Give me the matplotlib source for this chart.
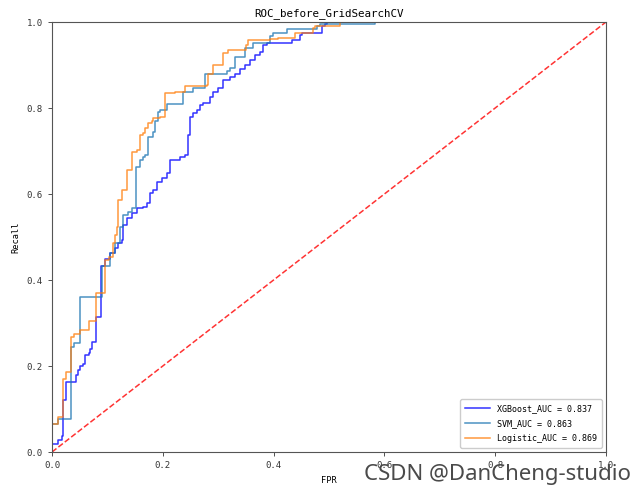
import matplotlib
matplotlib.use("Agg")
import matplotlib.pyplot as plt

# ROC risers: (fpr where the curve rises, tpr reached) -> drawn as steps-post
xgb_fpr = [0.0, 0.0, 0.010, 0.018, 0.019, 0.025, 0.043, 0.047, 0.051, 0.056, 0.060, 0.066, 0.069,
           0.073, 0.079, 0.089, 0.096, 0.105, 0.114, 0.120, 0.126, 0.128, 0.135, 0.144, 0.153,
           0.165, 0.171, 0.177, 0.183, 0.189, 0.198, 0.207, 0.213, 0.231, 0.240, 0.246, 0.249,
           0.255, 0.261, 0.267, 0.273, 0.285, 0.291, 0.300, 0.309, 0.321, 0.330, 0.340, 0.348,
           0.357, 0.366, 0.375, 0.381, 0.388, 0.433, 0.448, 0.451, 0.488, 0.492, 0.496, 1.0]
xgb_tpr = [0.0, 0.019, 0.028, 0.037, 0.120, 0.163, 0.179, 0.190, 0.200, 0.205, 0.225, 0.230, 0.240,
           0.256, 0.313, 0.433, 0.449, 0.462, 0.474, 0.486, 0.493, 0.528, 0.544, 0.556, 0.567,
           0.570, 0.579, 0.602, 0.609, 0.628, 0.637, 0.649, 0.679, 0.686, 0.690, 0.737, 0.779,
           0.788, 0.795, 0.807, 0.812, 0.826, 0.837, 0.847, 0.865, 0.872, 0.880, 0.890, 0.900,
           0.912, 0.923, 0.930, 0.947, 0.951, 0.959, 0.970, 0.974, 0.990, 0.995, 1.0, 1.0]

svm_fpr = [0.0, 0.0, 0.010, 0.034, 0.040, 0.051, 0.090, 0.105, 0.114, 0.123, 0.128, 0.138, 0.144,
           0.152, 0.159, 0.165, 0.168, 0.174, 0.183, 0.186, 0.192, 0.195, 0.207, 0.237, 0.255,
           0.276, 0.315, 0.321, 0.330, 0.348, 0.363, 0.394, 0.399, 0.424, 0.478, 0.484, 0.583, 1.0]
svm_tpr = [0.0, 0.065, 0.076, 0.244, 0.253, 0.361, 0.433, 0.462, 0.486, 0.524, 0.551, 0.559, 0.567,
           0.663, 0.679, 0.685, 0.690, 0.733, 0.745, 0.770, 0.791, 0.795, 0.809, 0.838, 0.846,
           0.880, 0.885, 0.893, 0.919, 0.940, 0.951, 0.967, 0.974, 0.984, 0.990, 0.995, 1.0, 1.0]

log_fpr = [0.0, 0.0, 0.010, 0.019, 0.025, 0.034, 0.040, 0.051, 0.066, 0.079, 0.096, 0.102, 0.111,
           0.114, 0.118, 0.120, 0.126, 0.135, 0.144, 0.153, 0.159, 0.165, 0.168, 0.174, 0.180,
           0.183, 0.195, 0.204, 0.222, 0.240, 0.279, 0.282, 0.291, 0.309, 0.318, 0.351, 0.354,
           0.394, 0.408, 0.439, 0.472, 0.475, 0.520, 1.0]
log_tpr = [0.0, 0.065, 0.081, 0.170, 0.187, 0.267, 0.274, 0.284, 0.305, 0.370, 0.447, 0.453, 0.486,
           0.505, 0.524, 0.586, 0.609, 0.656, 0.698, 0.702, 0.737, 0.742, 0.753, 0.765, 0.769,
           0.777, 0.780, 0.834, 0.838, 0.850, 0.853, 0.880, 0.899, 0.927, 0.935, 0.947, 0.958,
           0.960, 0.962, 0.974, 0.986, 0.990, 1.0, 1.0]

labels = ["XGBoost_AUC = 0.837", "SVM_AUC = 0.863", "Logistic_AUC = 0.869"]
colors = ["blue", "#1f77b4", "#ff7f0e"]

plt.rcParams['font.family'] = ['DejaVu Sans Mono']

fig = plt.figure(figsize=(6.44, 4.94), dpi=100)
ax = fig.add_axes([52/644, 42/494, 554/644, 430/494])

for fx, ty, lab, c in zip([xgb_fpr, svm_fpr, log_fpr], [xgb_tpr, svm_tpr, log_tpr], labels, colors):
    ax.plot(fx, ty, drawstyle='steps-post', color=c, lw=1.1, alpha=0.8, label=lab)

ax.plot([0, 1], [0, 1], 'r--', lw=1.1, alpha=0.8)
ax.set_xlim(0, 1)
ax.set_ylim(0, 1)
ax.set_title("ROC_before_GridSearchCV", fontsize=7.8, pad=4)
ax.set_xlabel("FPR", fontsize=6.2, labelpad=4)
ax.set_ylabel("Recall", fontsize=6.2, labelpad=5)
ax.tick_params(labelsize=6.5, length=3, width=0.6, colors='#333333')
for s in ax.spines.values():
    s.set_linewidth(0.8)
    s.set_color('#555555')
leg = ax.legend(loc='lower right', fontsize=6, handlelength=3.0, borderpad=0.6,
                labelspacing=0.7, framealpha=1)

fig.text(0.98, 0.018, "CSDN @DanCheng-studio", ha='right', va='bottom',
         fontsize=16, color='#4a4a4a', family='Noto Sans')

fig.savefig("out.png", dpi=100)
